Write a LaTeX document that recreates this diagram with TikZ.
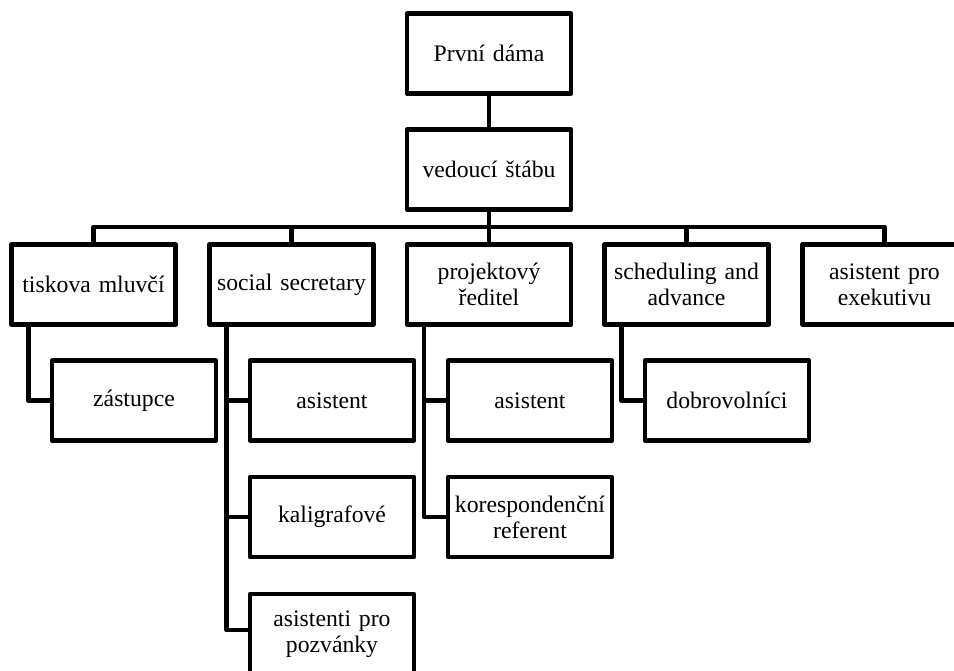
\documentclass[tikz,border=0pt]{standalone}
\usepackage{fontspec}
\setmainfont{Liberation Serif}
\begin{document}
\begin{tikzpicture}[x=1pt,y=-1pt,
  box/.style={draw=black, line width=4.5pt, line join=round, fill=white,
    minimum width=164pt, minimum height=80pt, text width=158pt, inner xsep=2pt,
    inner ysep=0pt, align=center, outer sep=0pt,
    font=\fontsize{23.7}{26}\selectfont},
  conn/.style={draw=black, line width=4.5pt, line join=round}]
\useasboundingbox (0,0) rectangle (954,671);
\clip (0,0) rectangle (954,671);
% top
\node[box] (pd) at (489,53.5) {První dáma};
\node[box] (vs) at (489,169.5) {vedoucí štábu};
% row 2
\node[box] (t1) at (93.5,284.5) {tiskova mluvčí};
\node[box] (t2) at (291.5,284.5) {social secretary};
\node[box] (t3) at (489,284.5) {projektový\\ředitel};
\node[box] (t4) at (686.5,284.5) {scheduling and\\advance};
\node[box] (t5) at (884.5,284.5) {asistent pro\\exekutivu};
% children
\node[box] (c11) at (134,400.5) {zástupce};
\node[box] (c21) at (332,400.5) {asistent};
\node[box] (c22) at (332,517) {kaligrafové};
\node[box] (c23) at (332,634) {asistenti pro\\pozvánky};
\node[box] (c31) at (530,400.5) {asistent};
\node[box] (c32) at (530,517) {korespondenční\\referent};
\node[box] (c41) at (727,400.5) {dobrovolníci};
\coordinate (bus) at (489,227);
% connectors
\draw[conn] (pd.south) -- (vs.north);
\draw[conn] (vs.south) -- (t3.north);
\draw[conn] (t1.north) -- (t1.north |- bus) -- (t5.north |- bus) -- (t5.north);
\draw[conn] (t2.north) -- (t2.north |- bus);
\draw[conn] (t4.north) -- (t4.north |- bus);
\draw[conn] ([xshift=17pt]t1.south west) |- (c11.west);
\draw[conn] ([xshift=17pt]t2.south west) |- ([yshift=4pt]c23.west);
\draw[conn] ([xshift=17pt]t2.south west) |- (c21.west);
\draw[conn] ([xshift=17pt]t2.south west) |- (c22.west);
\draw[conn] ([xshift=17pt]t3.south west) |- (c32.west);
\draw[conn] ([xshift=17pt]t3.south west) |- (c31.west);
\draw[conn] ([xshift=17pt]t4.south west) |- (c41.west);
\end{tikzpicture}
\end{document}
